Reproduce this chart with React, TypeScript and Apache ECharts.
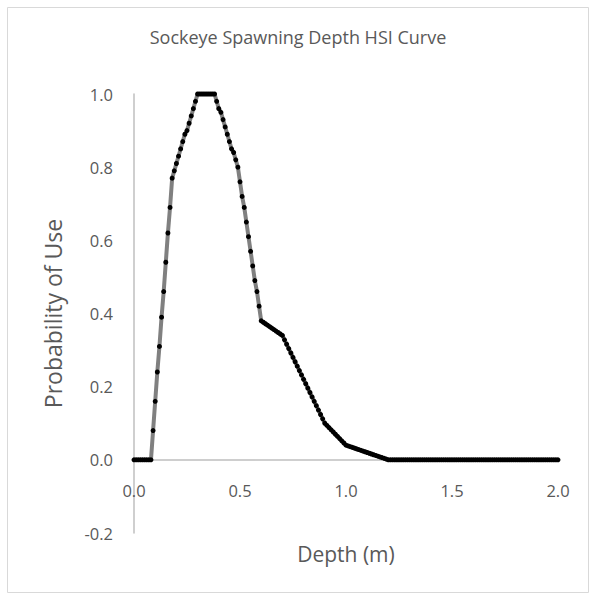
import React, { useEffect, useRef } from "react";
import * as echarts from "echarts";

const chartTitle = "Sockeye Spawning Depth HSI Curve";
const xAxisTitle = "Depth (m)";
const yAxisTitle = "Probability of Use";

const depths = [
  0.00, 0.01, 0.02, 0.03, 0.04, 0.05, 0.06, 0.07, 0.08, 0.09,
  0.10, 0.11, 0.12, 0.13, 0.14, 0.15, 0.16, 0.17, 0.18, 0.19,
  0.20, 0.21, 0.22, 0.23, 0.24, 0.25, 0.26, 0.27, 0.28, 0.29,
  0.30, 0.31, 0.32, 0.33, 0.34, 0.35, 0.36, 0.37, 0.38, 0.39,
  0.40, 0.41, 0.42, 0.43, 0.44, 0.45, 0.46, 0.47, 0.48, 0.49,
  0.50, 0.51, 0.52, 0.53, 0.54, 0.55, 0.56, 0.57, 0.58, 0.59,
  0.60, 0.61, 0.62, 0.63, 0.64, 0.65, 0.66, 0.67, 0.68, 0.69,
  0.70, 0.71, 0.72, 0.73, 0.74, 0.75, 0.76, 0.77, 0.78, 0.79,
  0.80, 0.81, 0.82, 0.83, 0.84, 0.85, 0.86, 0.87, 0.88, 0.89,
  0.90, 0.91, 0.92, 0.93, 0.94, 0.95, 0.96, 0.97, 0.98, 0.99,
  1.00, 1.01, 1.02, 1.03, 1.04, 1.05, 1.06, 1.07, 1.08, 1.09,
  1.10, 1.11, 1.12, 1.13, 1.14, 1.15, 1.16, 1.17, 1.18, 1.19,
  1.20, 1.21, 1.22, 1.23, 1.24, 1.25, 1.26, 1.27, 1.28, 1.29,
  1.30, 1.31, 1.32, 1.33, 1.34, 1.35, 1.36, 1.37, 1.38, 1.39,
  1.40, 1.41, 1.42, 1.43, 1.44, 1.45, 1.46, 1.47, 1.48, 1.49,
  1.50, 1.51, 1.52, 1.53, 1.54, 1.55, 1.56, 1.57, 1.58, 1.59,
  1.60, 1.61, 1.62, 1.63, 1.64, 1.65, 1.66, 1.67, 1.68, 1.69,
  1.70, 1.71, 1.72, 1.73, 1.74, 1.75, 1.76, 1.77, 1.78, 1.79,
  1.80, 1.81, 1.82, 1.83, 1.84, 1.85, 1.86, 1.87, 1.88, 1.89,
  1.90, 1.91, 1.92, 1.93, 1.94, 1.95, 1.96, 1.97, 1.98, 1.99,
  2.00,
];

const probability = [
  0, 0, 0, 0, 0, 0, 0, 0, 0, 0.08,
  0.16, 0.24, 0.31, 0.39, 0.46, 0.54, 0.62, 0.69, 0.77, 0.79,
  0.81, 0.83, 0.85, 0.87, 0.89, 0.90, 0.92, 0.94, 0.96, 0.98,
  1.00, 1.00, 1.00, 1.00, 1.00, 1.00, 1.00, 1.00, 1.00, 0.98,
  0.96, 0.95, 0.93, 0.91, 0.89, 0.87, 0.85, 0.84, 0.82, 0.80,
  0.76, 0.72, 0.69, 0.65, 0.61, 0.57, 0.53, 0.49, 0.46, 0.42,
  0.38, 0.376, 0.372, 0.368, 0.364, 0.36, 0.356, 0.352, 0.348, 0.344,
  0.34, 0.328, 0.316, 0.304, 0.292, 0.28, 0.268, 0.256, 0.244, 0.232,
  0.22, 0.208, 0.196, 0.184, 0.172, 0.16, 0.148, 0.136, 0.124, 0.112,
  0.10, 0.094, 0.088, 0.082, 0.076, 0.07, 0.064, 0.058, 0.052, 0.046,
  0.04, 0.038, 0.036, 0.034, 0.032, 0.03, 0.028, 0.026, 0.024, 0.022,
  0.02, 0.018, 0.016, 0.014, 0.012, 0.01, 0.008, 0.006, 0.004, 0.002,
  0, 0, 0, 0, 0, 0, 0, 0, 0, 0,
  0, 0, 0, 0, 0, 0, 0, 0, 0, 0,
  0, 0, 0, 0, 0, 0, 0, 0, 0, 0,
  0, 0, 0, 0, 0, 0, 0, 0, 0, 0,
  0, 0, 0, 0, 0, 0, 0, 0, 0, 0,
  0, 0, 0, 0, 0, 0, 0, 0, 0, 0,
  0, 0, 0, 0, 0, 0, 0, 0, 0, 0,
  0, 0, 0, 0, 0, 0, 0, 0, 0, 0,
  0,
];

const FONT = "'Open Sans', 'Noto Sans', sans-serif";
const TEXT = "#595959";
const AXIS = "#bfbfbf";

export default function App() {
  const ref = useRef<HTMLDivElement>(null);
  useEffect(() => {
    if (!ref.current) return;
    const chart = echarts.init(ref.current, null, { renderer: "svg" });
    const data = depths.map((d, i) => [d, probability[i]]);
    chart.setOption({
      animation: false,
      backgroundColor: "#ffffff",
      textStyle: { fontFamily: FONT },
      title: {
        text: chartTitle,
        left: "center",
        top: 23,
        textStyle: { fontFamily: FONT, fontSize: 18, fontWeight: "normal", color: TEXT },
      },
      graphic: [
        {
          type: "rect",
          shape: { x: 7.5, y: 7.5, width: 581, height: 585 },
          style: { fill: "none", stroke: "#d9d9d9", lineWidth: 1 },
          silent: true,
        },
      ],
      grid: { left: 134, right: 38, top: 94, bottom: 67, outerBoundsMode: "none", containLabel: false },
      xAxis: {
        type: "value",
        min: 0,
        max: 2,
        interval: 0.5,
        name: xAxisTitle,
        nameLocation: "middle",
        nameGap: 10,
        nameTextStyle: { fontFamily: FONT, fontSize: 21, color: TEXT },
        axisLine: { show: true, onZero: true, lineStyle: { color: AXIS, width: 1.5 } },
        axisTick: { show: false },
        splitLine: { show: false },
        axisLabel: {
          margin: -51,
          fontFamily: FONT,
          fontSize: 16.5,
          color: TEXT,
          formatter: (v: number) => v.toFixed(1),
        },
      },
      yAxis: {
        type: "value",
        min: -0.2,
        max: 1.0,
        interval: 0.2,
        name: yAxisTitle,
        nameLocation: "middle",
        nameGap: 70,
        nameTextStyle: { fontFamily: FONT, fontSize: 23, color: TEXT },
        axisLine: { show: true, lineStyle: { color: AXIS, width: 1.5 } },
        axisTick: { show: false },
        splitLine: { show: false },
        axisLabel: {
          margin: 21,
          fontFamily: FONT,
          fontSize: 16.5,
          color: TEXT,
          formatter: (v: number) => v.toFixed(1),
        },
      },
      series: [
        {
          type: "line",
          data,
          showSymbol: true,
          symbol: "circle",
          symbolSize: 5,
          itemStyle: { color: "#000000" },
          lineStyle: { color: "#808080", width: 4 },
        },
      ],
    });
    return () => chart.dispose();
  }, []);
  return <div ref={ref} style={{ width: 596, height: 600, position: "absolute", left: 0, top: 0 }} />;
}
